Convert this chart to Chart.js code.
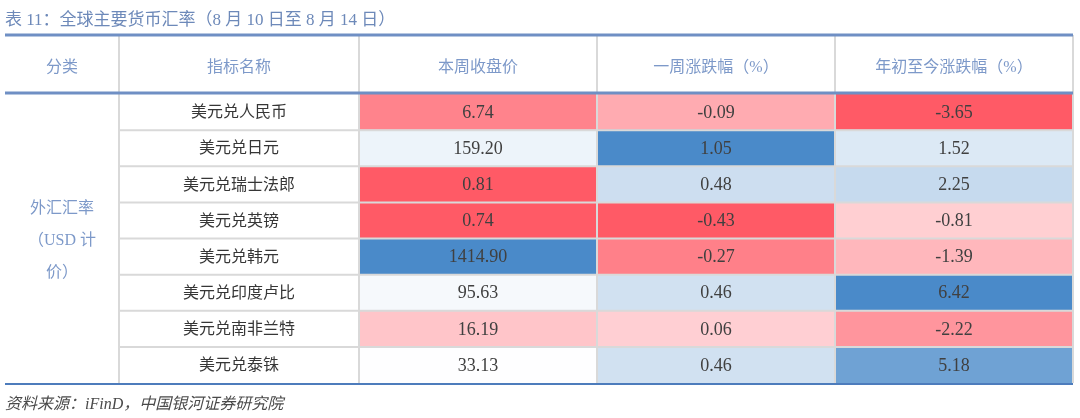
<!DOCTYPE html>
<html>
<head>
<meta charset="utf-8">
<script src="https://cdn.jsdelivr.net/npm/chart.js@4.4.1/dist/chart.umd.min.js"></script>
<style>
  html, body { margin: 0; padding: 0; background: #fff; }
  #wrap { position: relative; width: 1080px; height: 418px; overflow: hidden; }
  #c { position: absolute; left: 0; top: 0; }
  #title {
    position: absolute; left: 5px; top: 5px; white-space: nowrap;
    font: 17px 'Liberation Serif', 'Noto Sans CJK SC', serif; color: #6d89b9;
  }
  #source {
    position: absolute; left: 5px; top: 390px; white-space: nowrap;
    font: italic 16px 'Liberation Serif', 'Noto Sans CJK SC', serif; color: #4a4a4a;
  }
</style>
</head>
<body>
<div id="wrap">
  <canvas id="c" width="1080" height="418"></canvas>
  <div id="title">表 11：全球主要货币汇率（8 月 10 日至 8 月 14 日）</div>
  <div id="source">资料来源：iFinD，中国银河证券研究院</div>
</div>
<script>
// table data
const headers    = ["分类", "指标名称", "本周收盘价", "一周涨跌幅（%）", "年初至今涨跌幅（%）"];
const groupLines = ["外汇汇率", "（USD 计", "价）"];
const pairs      = ["美元兑人民币", "美元兑日元", "美元兑瑞士法郎", "美元兑英镑",
                    "美元兑韩元", "美元兑印度卢比", "美元兑南非兰特", "美元兑泰铢"];
const closePrice = [6.74, 159.20, 0.81, 0.74, 1414.90, 95.63, 16.19, 33.13];
const weekChange = [-0.09, 1.05, 0.48, -0.43, -0.27, 0.46, 0.06, 0.46];
const ytdChange  = [-3.65, 1.52, 2.25, -0.81, -1.39, 6.42, -2.22, 5.18];

const columns = [closePrice, weekChange, ytdChange];

// colours
const LOW  = [255, 90, 102];   // red (min)
const MID  = [255, 255, 255];  // white (median)
const HIGH = [74, 138, 201];   // blue (max)
const FONT = "'Liberation Serif', 'Noto Sans CJK SC', serif";
const BLUE_LINE = "#6f8fc4";
const GRID = "#d9d9d9";

// 3-colour scale like excel conditional format (min / median / max)
function scaleColors(vals) {
  const s = [...vals].sort((a, b) => a - b);
  const n = s.length;
  const med = n % 2 ? s[(n - 1) / 2] : (s[n / 2 - 1] + s[n / 2]) / 2;
  const lo = s[0], hi = s[n - 1];
  return vals.map(v => {
    let a, b, t;
    if (v <= med) { a = LOW; b = MID; t = (v - lo) / (med - lo); }
    else { a = MID; b = HIGH; t = (v - med) / (hi - med); }
    const c = a.map((x, i) => Math.round(x + (b[i] - x) * t));
    return `rgb(${c[0]},${c[1]},${c[2]})`;
  });
}

// table lines and texts
const tablePlugin = {
  id: "table",
  afterDatasetsDraw(chart) {
    const ctx = chart.ctx, ca = chart.chartArea;
    const xs = chart.scales.x, ys = chart.scales.y;
    const n = pairs.length;
    const rowH = (ca.bottom - ca.top) / n;
    const headTop = 35, tableLeft = 5, nameLeft = 119;
    const colX = [tableLeft, nameLeft, ca.left, xs.getPixelForValue(1), xs.getPixelForValue(2), ca.right];

    ctx.save();
    // grey cell borders
    ctx.strokeStyle = GRID;
    ctx.lineWidth = 2;
    ctx.beginPath();
    for (let i = 1; i < colX.length; i++) {
      ctx.moveTo(colX[i], headTop);
      ctx.lineTo(colX[i], ca.bottom);
    }
    for (let r = 1; r < n; r++) {
      const y = ca.top + r * rowH;
      ctx.moveTo(nameLeft, y);
      ctx.lineTo(ca.right, y);
    }
    ctx.stroke();

    // blue rules
    ctx.strokeStyle = BLUE_LINE;
    ctx.lineWidth = 3;
    ctx.beginPath();
    ctx.moveTo(tableLeft, headTop); ctx.lineTo(ca.right, headTop);
    ctx.moveTo(tableLeft, ca.top - 1); ctx.lineTo(ca.right, ca.top - 1);
    ctx.stroke();
    ctx.strokeStyle = "#4d7cbc";
    ctx.lineWidth = 2;
    ctx.beginPath();
    ctx.moveTo(tableLeft, ca.bottom + 1); ctx.lineTo(ca.right, ca.bottom + 1);
    ctx.stroke();

    ctx.textAlign = "center";
    ctx.textBaseline = "middle";

    // header
    ctx.font = "16px " + FONT;
    ctx.fillStyle = "#7d99c9";
    const headMid = (headTop + ca.top) / 2 + 3;
    headers.forEach((h, i) => {
      ctx.fillText(h, (colX[i] + colX[i + 1]) / 2, headMid);
    });

    // merged group cell
    const gx = (colX[0] + colX[1]) / 2;
    const gy = (ca.top + ca.bottom) / 2 + 2;
    groupLines.forEach((t, i) => {
      ctx.fillText(t, gx, gy + (i - 1) * 32);
    });

    // row names
    ctx.fillStyle = "#363636";
    pairs.forEach((p, r) => {
      ctx.fillText(p, (colX[1] + colX[2]) / 2, ys.getPixelForValue(r) + 1);
    });

    // values
    ctx.font = "18px " + FONT;
    ctx.fillStyle = "#404040";
    columns.forEach((vals, c) => {
      vals.forEach((v, r) => {
        ctx.fillText(v.toFixed(2), xs.getPixelForValue(c + 0.5), ys.getPixelForValue(r) + 1);
      });
    });
    ctx.restore();
  }
};

const datasets = columns.map((vals, c) => ({
  label: headers[c + 2],
  data: vals.map(() => [c, c + 1]),
  backgroundColor: scaleColors(vals),
  borderWidth: 0,
  barPercentage: 1,
  categoryPercentage: 1
}));

new Chart(document.getElementById("c").getContext("2d"), {
  type: "bar",
  data: { labels: pairs, datasets: datasets },
  options: {
    indexAxis: "y",
    responsive: false,
    animation: false,
    layout: { padding: { left: 359, right: 7, top: 94, bottom: 35 } },
    plugins: { legend: { display: false }, tooltip: { enabled: false } },
    scales: {
      x: { type: "linear", min: 0, max: 3, display: false },
      y: { display: false }
    },
    datasets: { bar: { grouped: false } }
  },
  plugins: [tablePlugin]
});
</script>
</body>
</html>
